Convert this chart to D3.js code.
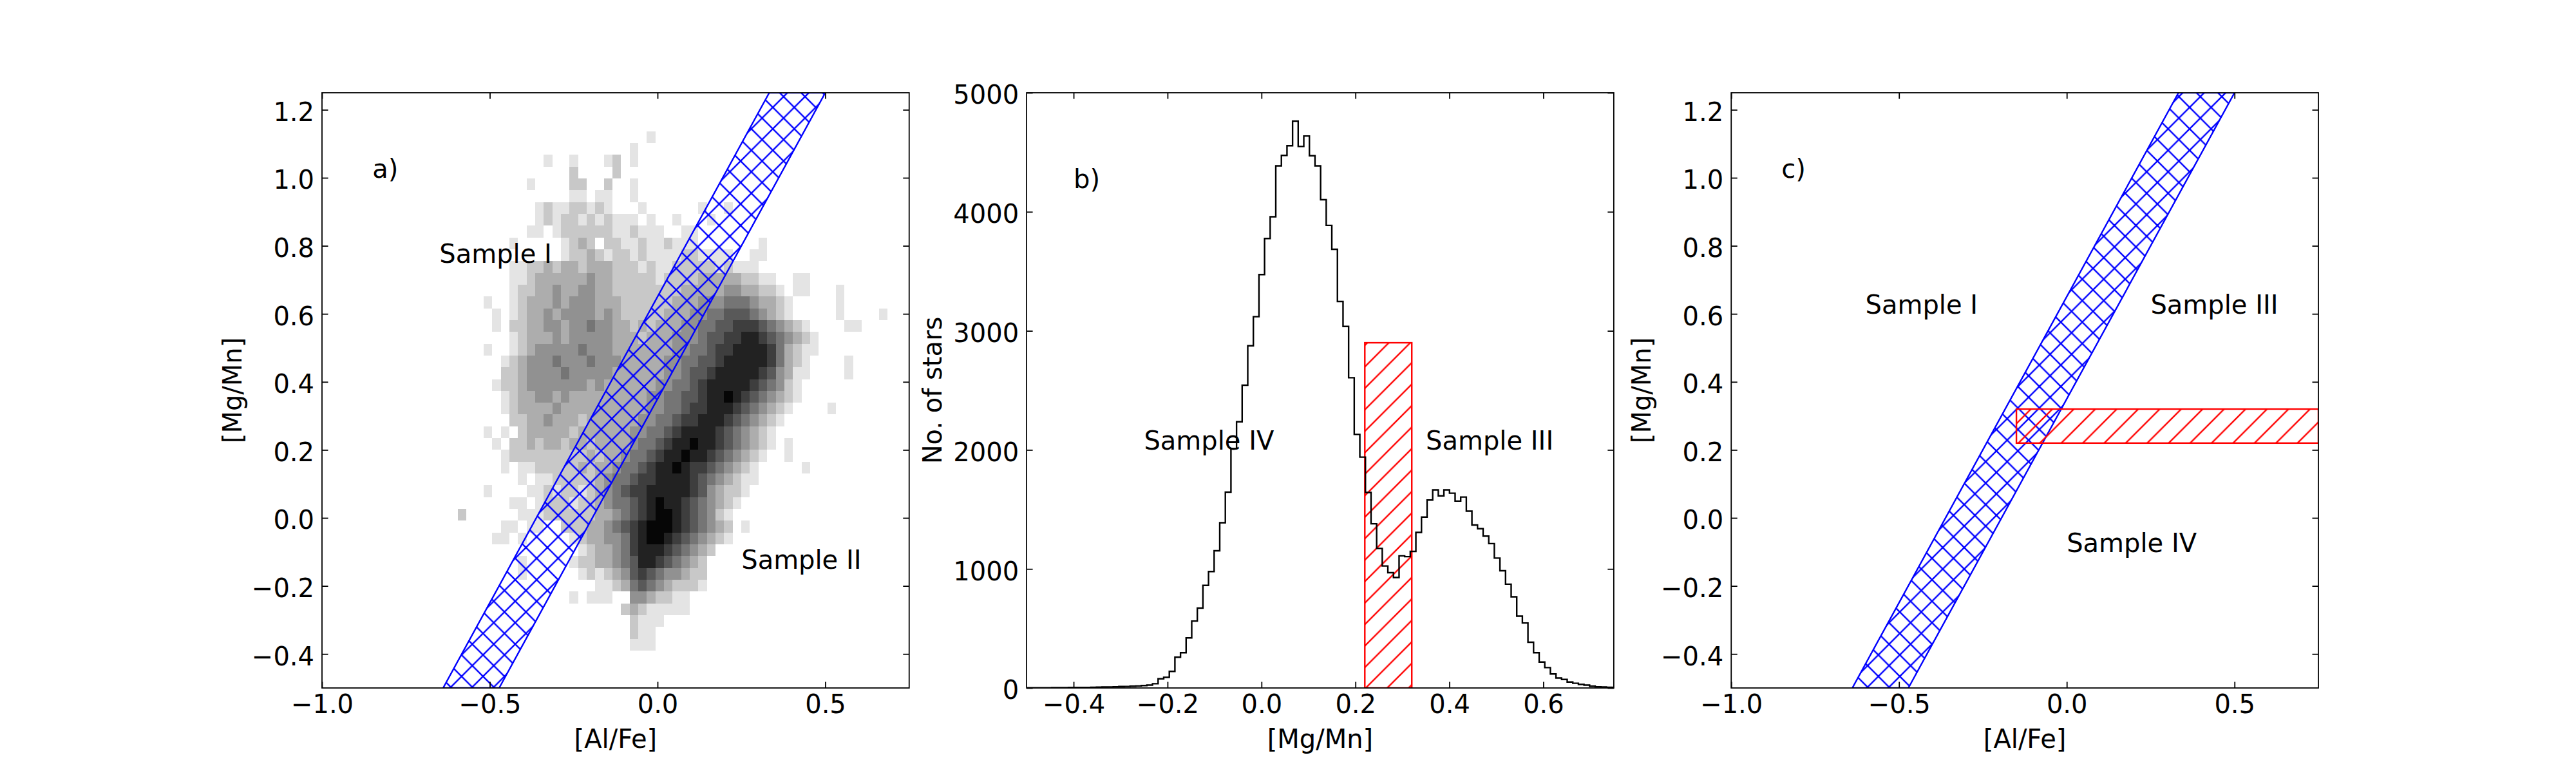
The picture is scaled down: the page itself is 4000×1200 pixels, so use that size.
<!DOCTYPE html>
<html lang="en">
<head>
<meta charset="UTF-8">
<title>Sample selection in [Al/Fe] - [Mg/Mn]</title>
<script src="https://d3js.org/d3.v7.min.js"></script>
<style>
    body { margin: 0; background: #fff; }
    svg text { font-family: "DejaVu Sans", sans-serif; font-size: 40px; fill: #000; }
</style>
</head>
<body>
<script>
// ---- data ----
var alfeTicks = [-1.0, -0.5, 0.0, 0.5];
var mgmnTicks = [-0.4, -0.2, 0.0, 0.2, 0.4, 0.6, 0.8, 1.0, 1.2];
var histTicksX = [-0.4, -0.2, 0.0, 0.2, 0.4, 0.6];
var histTicksY = [0, 1000, 2000, 3000, 4000, 5000];

// panel b: histogram of [Mg/Mn]
var binStart = -0.5064;
var binWidth = 0.01193;
var starCounts = [
    1, 1, 2, 2, 2, 3, 3, 3, 4, 4,
    5, 5, 6, 7, 8, 9, 10, 12, 13, 15,
    17, 20, 24, 36, 77, 89, 139, 258, 296, 421,
    562, 671, 862, 978, 1153, 1388, 1645, 2011, 2236, 2543,
    2875, 3119, 3473, 3776, 3958, 4386, 4474, 4555,
    4762, 4549, 4637, 4471, 4386, 4102, 3886, 3685, 3247, 3037,
    2606, 2130, 1939, 1642, 1379, 1172, 1025, 969, 928, 1110,
    1103, 1147, 1307, 1435, 1579, 1664, 1614, 1664, 1636, 1570,
    1604, 1485, 1369, 1338, 1276, 1213, 1091, 985, 872, 766,
    603, 546, 384, 296, 218, 171, 118, 84, 72, 50,
    40, 30, 24, 15, 10, 8, 6, 5
];

// panel a: 2d histogram, grey level 1..9 per cell ('.' = empty)
var gridX0 = -0.595, gridDX = 0.0256;
var gridY0 = -0.390, gridDY = 0.0347;
var densityRows = [
    [43, 22, "1"],
    [42, 20, "1"],
    [41, 10, "1..1...12.1"],
    [40, 13, "2....2"],
    [39, 8, "1....22..2..1"],
    [38, 13, "11.11..1"],
    [37, 9, "121122121...1......1..1"],
    [36, 9, "121221212111.1..1...1"],
    [35, 8, "11.1222222112111..11"],
    [34, 6, "1.....1232.22112112111.......1"],
    [33, 12, "12232122121111221111..11"],
    [32, 6, "11223233233322212112222212111"],
    [31, 6, "1123333334332222212222333332211..11"],
    [30, 6, "12233433443322222222333334433221.11...1"],
    [29, 3, "1..123334344433322222233344455543321.....1"],
    [28, 4, "1.123343444434322222333445566654321.....1....1"],
    [27, 4, "1.22334434454433232333445566777654321....11"],
    [26, 6, "123334344444333233344456677887654321"],
    [25, 3, "1..123444445444333333344556778888753211"],
    [24, 5, "123444544454443333344556678888875321....1"],
    [23, 5, "223444454444433333344566788888764311....1"],
    [22, 4, "122344444443433333344556788888765421"],
    [21, 5, "12334434333333333445566788987654321"],
    [20, 5, "1233334333333333344556778887654321....1"],
    [19, 6, "22334333233333344556778887654321"],
    [18, 3, "1.1.233333233333344556788887654321"],
    [17, 4, "1.2232332332333345567889887654321.1"],
    [16, 5, "1222222222323345567889887654321..1"],
    [15, 5, "1.1122222323345567889877654321.....1"],
    [14, 7, "1.11222223455677888876543211"],
    [13, 3, "1....11212212345677888887643221"],
    [12, 6, "11.122212234556789887654321"],
    [11, 0, "2......1112222223345678998765421"],
    [10, 5, "11.11..22233456789998765432.1"],
    [9, 4, "11.1.....1233445789987654321"],
    [8, 14, "1233457888765432"],
    [7, 7, "1.....1223345688765432"],
    [6, 7, "1......121234676544322"],
    [5, 16, "1123565432221"],
    [4, 13, "1.111..4432211"],
    [3, 19, "23211111"],
    [2, 20, "2111"],
    [1, 20, "211"],
    [0, 20, "111"]
];

// blue band (corners in [Al/Fe], [Mg/Mn])
var bandCorners = [[-0.639, -0.5], [0.333, 1.25], [0.5, 1.25], [-0.472, -0.5]];
// red cut in [Mg/Mn]
var cutMgMn = [0.22, 0.32];
var cutHeight = 2900;
var cutAlFe = [-0.15, 0.75];

var notesA = [["a)", -0.85, 1.0], ["Sample I", -0.65, 0.75], ["Sample II", 0.25, -0.15]];
var notesB = [["b)", -0.4, 4200], ["Sample IV", -0.25, 2000], ["Sample III", 0.35, 2000]];
var notesC = [["c)", -0.85, 1.0], ["Sample I", -0.6, 0.6], ["Sample III", 0.25, 0.6], ["Sample IV", 0.0, -0.1]];

// ---- layout ----
var panelW = 911.76, gapW = 182.35;
var plotTop = 144, plotBottom = 1068;
var lw = 1.8;
var hatchLw = 2.4;

var svg = d3.select("body").append("svg")
    .attr("width", 4000)
    .attr("height", 1200);
var defs = svg.append("defs");

var hs = 100 / 3;
function hatch(id, d, color, offset) {
    defs.append("pattern")
        .attr("id", id)
        .attr("patternUnits", "userSpaceOnUse")
        .attr("x", offset).attr("y", 0)
        .attr("width", hs).attr("height", hs)
        .append("path")
        .attr("d", d)
        .attr("fill", "none")
        .attr("stroke", color)
        .attr("stroke-width", hatchLw);
}
var slashPath = "M0," + hs + "L" + hs + ",0 M-3,3 L3,-3 M" + (hs - 3) + "," + (hs + 3) + " L" + (hs + 3) + "," + (hs - 3);
var backPath = "M0,0 L" + hs + "," + hs + " M-3," + (hs - 3) + " L3," + (hs + 3) + " M" + (hs - 3) + ",-3 L" + (hs + 3) + ",3";
hatch("crossBlue", slashPath + " " + backPath, "#0000ff", 0);
hatch("slashRed", slashPath, "#ff0000", 22);

function makePanel(k, xDom, yDom) {
    var x0 = 500 + k * (panelW + gapW);
    var p = {};
    p.x0 = x0;
    p.x = d3.scaleLinear().domain(xDom).range([x0, x0 + panelW]);
    p.y = d3.scaleLinear().domain(yDom).range([plotBottom, plotTop]);
    p.g = svg.append("g");
    defs.append("clipPath").attr("id", "clip" + k)
        .append("rect")
        .attr("x", x0).attr("y", plotTop)
        .attr("width", panelW).attr("height", plotBottom - plotTop);
    p.plot = p.g.append("g").attr("clip-path", "url(#clip" + k + ")");
    return p;
}

function drawAxes(p, xTicks, yTicks, fmtX, fmtY, xLabel, yLabel, yLabelDx) {
    var axes = [
        [d3.axisBottom(p.x).tickValues(xTicks).tickFormat(fmtX), "translate(0," + plotBottom + ")"],
        [d3.axisTop(p.x).tickValues(xTicks).tickFormat(""), "translate(0," + plotTop + ")"],
        [d3.axisLeft(p.y).tickValues(yTicks).tickFormat(fmtY), "translate(" + p.x0 + ",0)"],
        [d3.axisRight(p.y).tickValues(yTicks).tickFormat(""), "translate(" + (p.x0 + panelW) + ",0)"]
    ];
    axes.forEach(function(a, i) {
        var ag = p.g.append("g")
            .attr("transform", a[1])
            .attr("font-size", null)
            .attr("font-family", null)
            .call(a[0].tickSize(-9.5).tickPadding(i == 0 ? 10.6 : 12));
        ag.select(".domain").remove();
        ag.selectAll("line").attr("stroke-width", lw);
        if (i == 2) ag.selectAll("text").attr("dy", "0.42em");
    });
    p.g.append("rect")
        .attr("x", p.x0).attr("y", plotTop)
        .attr("width", panelW).attr("height", plotBottom - plotTop)
        .attr("fill", "none")
        .attr("stroke", "#000")
        .attr("stroke-width", lw);
    p.g.append("text")
        .attr("x", p.x0 + panelW / 2)
        .attr("y", 1161)
        .attr("text-anchor", "middle")
        .text(xLabel);
    p.g.append("text")
        .attr("transform", "translate(" + (p.x0 + yLabelDx) + "," + (plotTop + plotBottom) / 2 + ") rotate(-90)")
        .attr("text-anchor", "middle")
        .text(yLabel);
}

function drawNotes(p, notes) {
    p.g.selectAll(null)
        .data(notes)
        .enter()
        .append("text")
        .attr("x", function(d) { return p.x(d[1]); })
        .attr("y", function(d) { return p.y(d[2]); })
        .text(function(d) { return d[0]; });
}

function drawBand(p) {
    p.plot.append("path")
        .attr("d", d3.line().x(function(d) { return p.x(d[0]); }).y(function(d) { return p.y(d[1]); })(bandCorners) + "Z")
        .attr("fill", "url(#crossBlue)")
        .attr("stroke", "#0000ff")
        .attr("stroke-width", hatchLw);
}

var fmt1 = d3.format(".1f");

// ---- panel a ----
var pa = makePanel(0, [-1.0, 0.75], [-0.5, 1.25]);
var grey = d3.scaleLinear().domain([1, 9]).range(["#e4e4e4", "#060606"]);
var cells = [];
densityRows.forEach(function(r) {
    r[2].split("").forEach(function(c, i) {
        if (c != ".") cells.push({ row: r[0], col: r[1] + i, level: +c });
    });
});
pa.plot.append("g")
    .attr("shape-rendering", "crispEdges")
    .selectAll("rect")
    .data(cells)
    .enter()
    .append("rect")
    .attr("x", function(d) { return pa.x(gridX0 + d.col * gridDX); })
    .attr("y", function(d) { return pa.y(gridY0 + (d.row + 1) * gridDY); })
    .attr("width", function(d) { return pa.x(gridX0 + (d.col + 1) * gridDX) - pa.x(gridX0 + d.col * gridDX); })
    .attr("height", function(d) { return pa.y(gridY0 + d.row * gridDY) - pa.y(gridY0 + (d.row + 1) * gridDY); })
    .attr("fill", function(d) { return grey(d.level); });
drawBand(pa);
drawAxes(pa, alfeTicks, mgmnTicks, fmt1, fmt1, "[Al/Fe]", "[Mg/Mn]", -125);
drawNotes(pa, notesA);

// ---- panel b ----
var pb = makePanel(1, [-0.5, 0.75], [0, 5000]);
pb.plot.append("rect")
    .attr("x", pb.x(cutMgMn[0]))
    .attr("y", pb.y(cutHeight))
    .attr("width", pb.x(cutMgMn[1]) - pb.x(cutMgMn[0]))
    .attr("height", pb.y(0) - pb.y(cutHeight))
    .attr("fill", "url(#slashRed)")
    .attr("stroke", "#ff0000")
    .attr("stroke-width", hatchLw);
var steps = [[binStart, 0]];
starCounts.forEach(function(c, i) {
    steps.push([binStart + i * binWidth, c]);
    steps.push([binStart + (i + 1) * binWidth, c]);
});
steps.push([binStart + starCounts.length * binWidth, 0]);
pb.plot.append("path")
    .attr("d", d3.line().x(function(d) { return pb.x(d[0]); }).y(function(d) { return pb.y(d[1]); })(steps))
    .attr("fill", "none")
    .attr("stroke", "#000")
    .attr("stroke-width", 2.4);
drawAxes(pb, histTicksX, histTicksY, fmt1, d3.format("d"), "[Mg/Mn]", "No. of stars", -132);
drawNotes(pb, notesB);

// ---- panel c ----
var pc = makePanel(2, [-1.0, 0.75], [-0.5, 1.25]);
drawBand(pc);
pc.plot.append("rect")
    .attr("x", pc.x(cutAlFe[0]))
    .attr("y", pc.y(cutMgMn[1]))
    .attr("width", pc.x(cutAlFe[1]) - pc.x(cutAlFe[0]))
    .attr("height", pc.y(cutMgMn[0]) - pc.y(cutMgMn[1]))
    .attr("fill", "url(#slashRed)")
    .attr("stroke", "#ff0000")
    .attr("stroke-width", hatchLw);
drawAxes(pc, alfeTicks, mgmnTicks, fmt1, fmt1, "[Al/Fe]", "[Mg/Mn]", -125);
drawNotes(pc, notesC);
</script>
</body>
</html>
